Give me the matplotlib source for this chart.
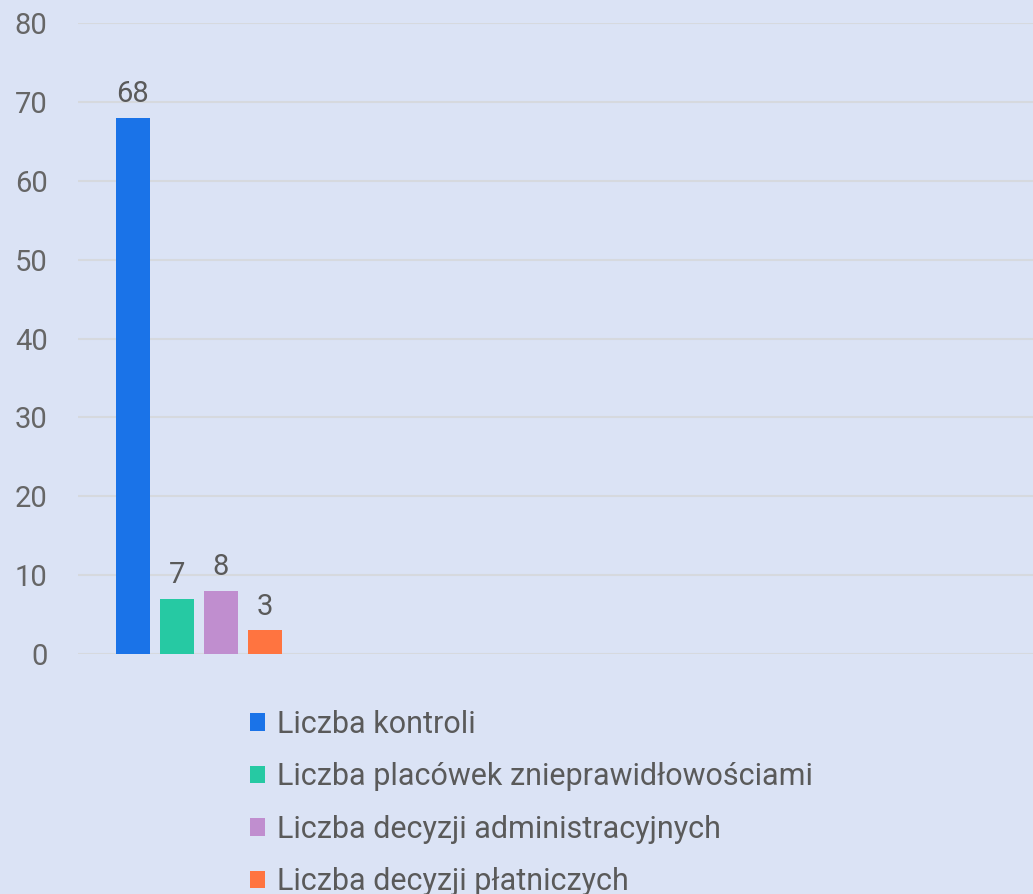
import matplotlib
matplotlib.use("Agg")
import matplotlib.pyplot as plt
from matplotlib.patches import Patch

plt.rcParams['font.family'] = ['Roboto', 'DejaVu Sans']

series = ["Liczba kontroli", "Liczba placówek znieprawidłowościami",
          "Liczba decyzji administracyjnych", "Liczba decyzji płatniczych"]
values = [68, 7, 8, 3]
colors = ["#1a73e8", "#26c9a3", "#c08ecf", "#ff7440"]
yticks = [0, 10, 20, 30, 40, 50, 60, 70, 80]

bg = "#dbe3f5"
txt = "#5a5a5a"
W, H = 1033, 894
fig = plt.figure(figsize=(W/100, H/100), dpi=100, facecolor=bg)
ax = fig.add_axes([78/W, 240/H, 1 - 78/W, (654-23)/H])
ax.set_facecolor(bg)

step = 1.0
width = 0.78
for i, (v, c, lab) in enumerate(zip(values, colors, series)):
    x = (i - 1.5) * step
    ax.bar(x, v, width=width, color=c, label=lab, zorder=3)
    ax.annotate(str(v), (x, v), xytext=(0, 7), textcoords="offset points",
                ha="center", va="bottom", fontsize=21, color=txt)

ax.set_xlim(-2.744, 18.96)
ax.set_ylim(0, 80)
ax.set_yticks(yticks)
ax.set_xticks([])
ax.grid(axis="y", color="#d6d9de", linewidth=1.5, zorder=0)
for s in ax.spines.values():
    s.set_visible(False)
ax.tick_params(axis="y", length=0, pad=22, labelsize=21, labelcolor="#666666")

handles = [Patch(facecolor=c, edgecolor="none") for c in colors]
leg = fig.legend(handles, series, loc="upper left",
                 bbox_to_anchor=(250/W, 1 - 710/H), frameon=False,
                 borderpad=0, borderaxespad=0, fontsize=22,
                 handlelength=0.5, handleheight=0.5, handletextpad=0.38,
                 labelspacing=0.765)
for t in leg.get_texts():
    t.set_color(txt)

fig.savefig("out.png", dpi=100, facecolor=bg)
